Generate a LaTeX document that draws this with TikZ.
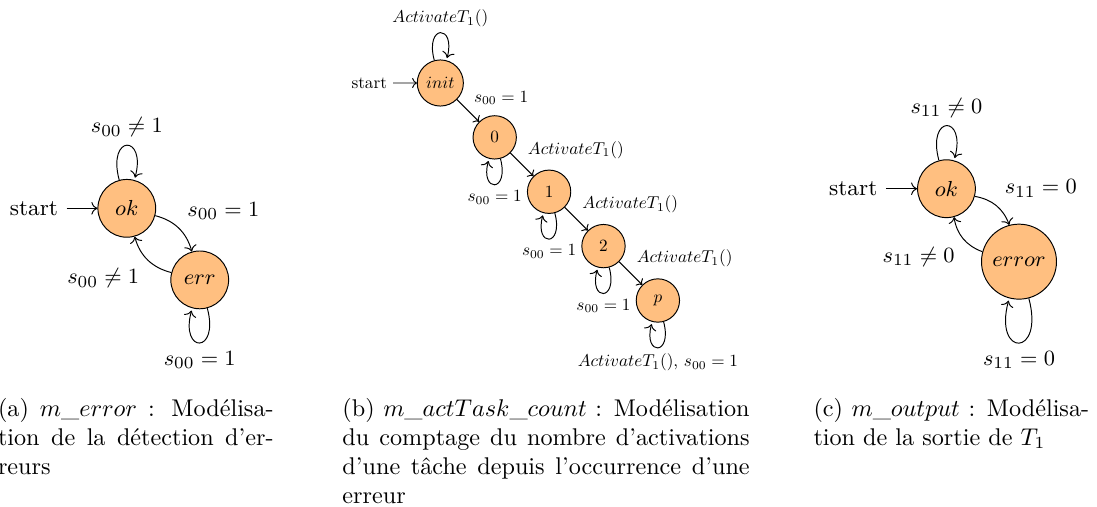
\documentclass[tikz,border=0pt]{standalone}
\usepackage{fontspec}
\usepackage{tikz}
\usetikzlibrary{arrows.meta, positioning}
\definecolor{stateorange}{HTML}{FFBF80}
\newcommand{\diagfont}{\fontsize{9.4}{11.3}\selectfont}
\tikzset{
  mstate/.style={circle, draw=black, fill=stateorange, minimum size=0.84cm, inner sep=1pt},
  cstate/.style={mstate, minimum size=0.887cm},
  trans/.style={-{To}},
  ctrans/.style={-{To[scale=0.8]}},
  subcap/.style={anchor=base west, align=left, inner sep=0pt, font=\normalsize},
}

\begin{document}
\begin{tikzpicture}[on grid]
  \clip (0,0) rectangle (15.945,-7.355);
  % (a) m_error
  \begin{scope}[font=\diagfont]
    \node[mstate] (oka) at (1.843,-3.028) {$ok$};
    \node[mstate, below right=1.04cm and 1.06cm of oka] (erra) {$err$};
    \node[left=1.35cm of oka] (starta) {start};
    \draw[trans] (starta) -- (oka);
    \draw[trans] (oka) edge[loop above] node[above] {$s_{00} \neq 1$} (oka)
      (oka) edge[bend left] node[auto] {$s_{00} = 1$} (erra)
      (erra) edge[bend left] node[auto] {$s_{00} \neq 1$} (oka)
      (erra) edge[loop below] node[below] {$s_{00} = 1$} (erra);
  \end{scope}

  % (b) m_actTask_count
  \begin{scope}[scale=0.71, transform shape, node distance=1.113cm and 1.113cm]
    \node[cstate, minimum size=0.944cm] (init) at (9.014,-1.699) {$init$};
    \node[cstate, below right=of init] (c0) {$0$};
    \node[cstate, below right=of c0] (c1) {$1$};
    \node[cstate, below right=of c1] (c2) {$2$};
    \node[cstate, below right=of c2] (cp) {$p$};
    \node[left=1.455cm of init] (startb) {start};
    \draw[ctrans] (startb) -- (init);
    \draw[ctrans] (init) edge[loop above] node[above] {$ActivateT_1()$} (init)
      (init) edge node[auto] {$s_{00} = 1$} (c0)
      (c0) edge[loop below] node[below] {$s_{00} = 1$} (c0)
      (c0) edge node[auto] {$ActivateT_1()$} (c1)
      (c1) edge[loop below] node[below] {$s_{00} = 1$} (c1)
      (c1) edge node[auto] {$ActivateT_1()$} (c2)
      (c2) edge[loop below] node[below] {$s_{00} = 1$} (c2)
      (c2) edge node[auto] {$ActivateT_1()$} (cp)
      (cp) edge[loop below] node[below] {$ActivateT_1()$, $s_{00} = 1$} (cp);
  \end{scope}

  % (c) m_output
  \begin{scope}[font=\diagfont]
    \node[mstate] (okc) at (13.757,-2.743) {$ok$};
    \node[mstate, minimum size=1.09cm, below right=1.06cm and 1.054cm of okc] (errc) {$error$};
    \node[left=1.355cm of okc] (startc) {start};
    \draw[trans] (startc) -- (okc);
    \draw[trans] (okc) edge[loop above] node[above] {$s_{11} \neq 0$} (okc)
      (okc) edge[bend left] node[auto] {$s_{11} = 0$} (errc)
      (errc) edge[bend left] node[auto] {$s_{11} \neq 0$} (okc)
      (errc) edge[loop below] node[below] {$s_{11} = 0$} (errc);
  \end{scope}

  % captions
  \node[subcap] (capa) at (-0.036,-6.891)
    {\makebox[114pt][s]{(a) $m\_error$ : Modélisa-}\\
     \makebox[114pt][s]{tion de la détection d'er-}\\
     reurs};
  \node[subcap] (capb) at (4.971,-7.312)
    {\makebox[168.4pt][s]{(b) $m\_actTask\_count$ : Modélisation}\\
     \makebox[168.4pt][s]{du comptage du nombre d'activations}\\
     \makebox[168.4pt][s]{d'une tâche depuis l'occurrence d'une}\\
     erreur};
  \node[subcap] (capc) at (11.817,-6.469)
    {\makebox[114pt][s]{(c) $m\_output$ : Modélisa-}\\
     tion de la sortie de $T_1$};
\end{tikzpicture}
\end{document}
